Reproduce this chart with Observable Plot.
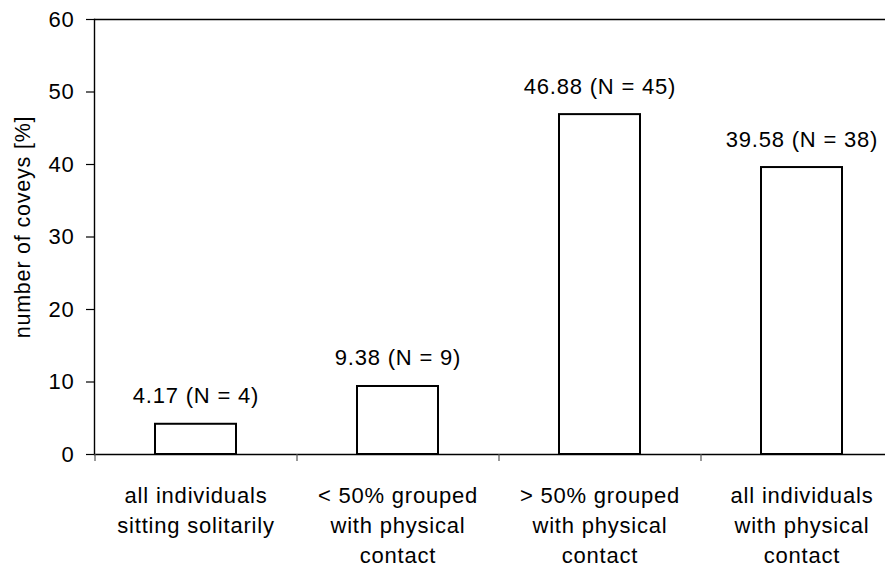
<!DOCTYPE html>
<html>
<head>
<meta charset="utf-8">
<script src="https://cdn.jsdelivr.net/npm/d3@7"></script>
<script src="https://cdn.jsdelivr.net/npm/@observablehq/plot@0.6"></script>
<style>
  html, body { margin: 0; padding: 0; background: #fff; }
  #chart svg text { letter-spacing: 0.8px; }
  #chart svg text.ylab { letter-spacing: 0; }
</style>
</head>
<body>
<div id="chart"></div>
<script>
const categories = [
  "all individuals\nsitting solitarily",
  "< 50% grouped\nwith physical\ncontact",
  "> 50% grouped\nwith physical\ncontact",
  "all individuals\nwith physical\ncontact"
];
const values = [4.17, 9.38, 46.88, 39.58];
const counts = [4, 9, 45, 38];
const yTicks = [0, 10, 20, 30, 40, 50, 60];
const yLabel = "number of coveys [%]";

const data = categories.map((c, i) => ({cat: c, value: values[i], n: counts[i]}));
const font = "'Liberation Sans', Arial, Helvetica, sans-serif";

const chart = Plot.plot({
  width: 885,
  height: 563,
  marginTop: 19,
  marginBottom: 109,
  marginLeft: 94,
  marginRight: 0,
  style: {fontFamily: font, fontSize: "22px", background: "#fff", color: "#000", overflow: "hidden"},
  x: {domain: categories, range: [94, 902], paddingInner: 0.6, paddingOuter: 0.3},
  y: {domain: [0, 60]},
  marks: [
    Plot.ruleY([0, 60], {stroke: "#000", strokeWidth: 1.4}),
    Plot.frame({anchor: "left", stroke: "#000", strokeWidth: 1.4}),
    Plot.axisY({ticks: yTicks, tickSize: 8, tickPadding: 12, label: null, fontSize: 22, stroke: "#000", strokeWidth: 1.2}),
    Plot.axisX({tickSize: 7, dx: -101, tickFormat: () => "", label: null, stroke: "#555", strokeWidth: 1.2}),
    Plot.axisX({tickSize: 0, tickPadding: 27, lineHeight: 1.36, label: null, fontSize: 22}),
    Plot.barY(data, {x: "cat", y: "value", fill: "#fff", stroke: "#000", strokeWidth: 2}),
    Plot.text(data, {x: "cat", y: "value", text: d => `${d.value.toFixed(2)} (N = ${d.n})`, lineAnchor: "bottom", dy: -21, fontSize: 22, fill: "#000"}),
    Plot.text([yLabel], {frameAnchor: "left", textAnchor: "middle", text: d => d, rotate: -90, dx: -71, dy: -10, fontSize: 21.5, fill: "#000", className: "ylab"})
  ]
});
document.getElementById("chart").appendChild(chart);
</script>
</body>
</html>
